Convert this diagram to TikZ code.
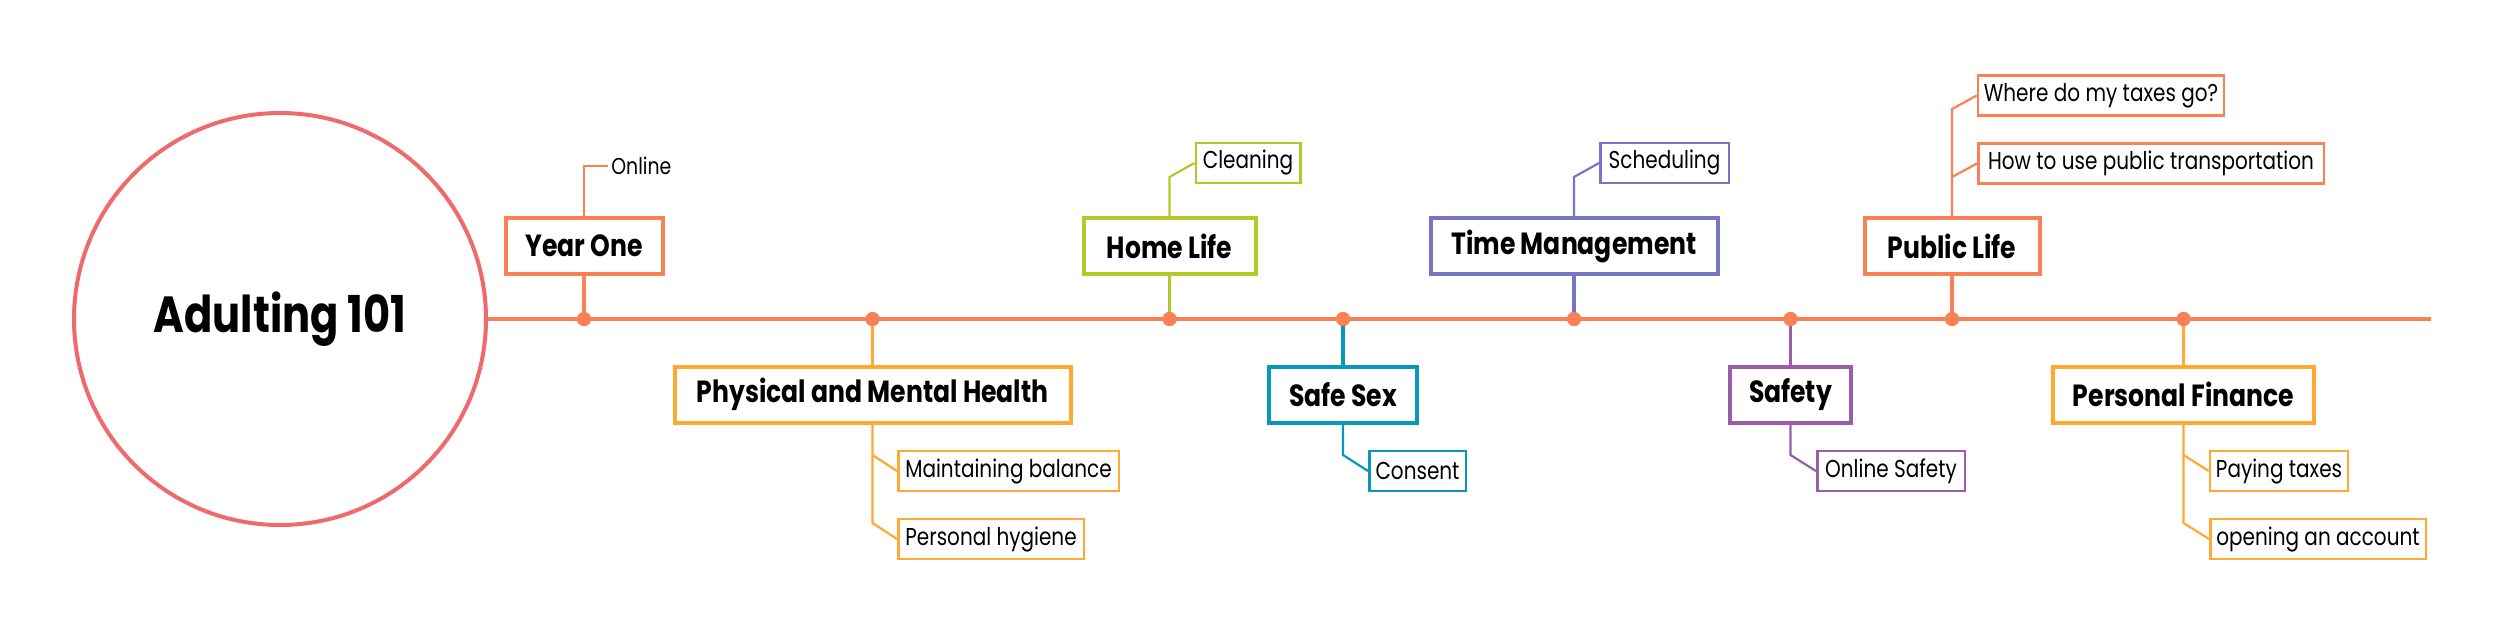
\documentclass[tikz,border=0pt]{standalone}
\usepackage{fontspec}
\setmainfont{Poppins}[FakeStretch=0.82]
\definecolor{tl}{RGB}{250,128,86}
\definecolor{circ}{RGB}{239,106,108}
\definecolor{yel}{RGB}{255,168,50}
\definecolor{lime}{RGB}{181,200,40}
\definecolor{tealc}{RGB}{10,152,186}
\definecolor{slate}{RGB}{118,116,196}
\definecolor{purp}{RGB}{155,92,170}
\begin{document}
\begin{tikzpicture}[x=0.5pt,y=-0.5pt,
  mainbox/.style={draw=#1, line width=2pt, fill=white, minimum height=28pt, inner sep=0pt,
    font=\bfseries\fontsize{15.3}{18}\selectfont},
  subbox/.style={draw=#1, line width=1.25pt, fill=white, minimum height=20pt, inner sep=0pt,
    font=\fontsize{12.2}{14}\selectfont},
  mainconn/.style={draw=#1, line width=1.75pt},
  subconn/.style={draw=#1, line width=1.1pt},
  tick/.style={circle, fill=tl, inner sep=0pt, minimum size=7pt}
]
\useasboundingbox (0,0) rectangle (2500,633);
% central circle
\node[circle, draw=circ, line width=2pt, minimum size=206pt, inner sep=0pt,
  font=\bfseries\fontsize{25.4}{30}\selectfont] (hub) at (280,319) {Adulting 101};
% timeline
\coordinate (tend) at (2431,319);
\draw[tl, line width=2pt] (hub.east) -- (tend);

% main boxes
\node[mainbox=tl, minimum width=78.5pt] (yo) at (584,246) {Year One};
\node[mainbox=yel, minimum width=198pt] (pm) at (872.5,394.5) {Physical and Mental Health};
\node[mainbox=lime, minimum width=86pt] (hl) at (1169.5,246) {Home Life};
\node[mainbox=tealc, minimum width=74pt] (ss) at (1343,394.5) {Safe Sex};
\node[mainbox=slate, minimum width=143.5pt] (tm) at (1574,246) {Time Management};
\node[mainbox=purp, minimum width=60.5pt] (sf) at (1790.5,394.5) {Safety};
\node[mainbox=tl, minimum width=87.5pt] (pl) at (1952,246) {Public Life};
\node[mainbox=yel, minimum width=130.5pt] (pf) at (2183.5,394.5) {Personal Finance};

% dots on timeline
\node[tick] (d1) at (584,319) {};
\node[tick] (d2) at (872.5,319) {};
\node[tick] (d3) at (1169.5,319) {};
\node[tick] (d4) at (1343,319) {};
\node[tick] (d5) at (1574,319) {};
\node[tick] (d6) at (1790.5,319) {};
\node[tick] (d7) at (1952,319) {};
\node[tick] (d8) at (2183.5,319) {};

% main connectors
\draw[mainconn=tl] (yo.south) -- (d1.center);
\draw[mainconn=yel] (d2.center) -- (pm.north);
\draw[mainconn=lime] (hl.south) -- (d3.center);
\draw[mainconn=tealc] (d4.center) -- (ss.north);
\draw[mainconn=slate] (tm.south) -- (d5.center);
\draw[mainconn=purp] (d6.center) -- (sf.north);
\draw[mainconn=tl] (pl.south) -- (d7.center);
\draw[mainconn=yel] (d8.center) -- (pf.north);
\foreach \d in {d1,d2,d3,d4,d5,d6,d7,d8} \node[tick] at (\d) {};

% sub boxes
\node[anchor=west, inner xsep=1.5pt, inner ysep=0pt, font=\fontsize{11.5}{13}\selectfont] (on) at (608,166) {Online};
\node[subbox=lime, minimum width=52.25pt] (cl) at (1248,163) {Cleaning};
\node[subbox=slate, minimum width=64.25pt] (sc) at (1664.5,163) {Scheduling};
\node[subbox=tl, minimum width=123pt] (wt) at (2101,95.5) {Where do my taxes go?};
\node[subbox=tl, minimum width=172.75pt] (ht) at (2151,163.5) {How to use public transportation};
\node[subbox=yel, minimum width=110.25pt] (mb) at (1008.5,471) {Maintaining balance};
\node[subbox=yel, minimum width=92.75pt] (ph) at (991,539) {Personal hygiene};
\node[subbox=tealc, minimum width=48.25pt] (cn) at (1417.5,471) {Consent};
\node[subbox=purp, minimum width=73.75pt] (os) at (1891,471) {Online Safety};
\node[subbox=yel, minimum width=69pt] (pt) at (2279,471) {Paying taxes};
\node[subbox=yel, minimum width=107.75pt] (oa) at (2318,539) {opening an account};

% branch points
\coordinate (yob) at (584,166);
\coordinate (hlb) at (1169.5,177);
\coordinate (tmb) at (1574,177);
\coordinate (plb1) at (1952,109);
\coordinate (plb2) at (1952,177);
\coordinate (pmb1) at (872.5,455);
\coordinate (pmb2) at (872.5,523);
\coordinate (ssb) at (1343,455);
\coordinate (sfb) at (1790.5,455);
\coordinate (pfb1) at (2183.5,455);
\coordinate (pfb2) at (2183.5,523);

% sub connectors
\draw[subconn=tl] (yo.north) -- (yob) -- (on.west);
\draw[subconn=lime] (hl.north) -- (hlb) -- (cl.west);
\draw[subconn=slate] (tm.north) -- (tmb) -- (sc.west);
\draw[subconn=tl] (pl.north) -- (plb1) -- (wt.west);
\draw[subconn=tl] (plb2) -- (ht.west);
\draw[subconn=yel] (pm.south) -- (pmb2) -- (ph.west);
\draw[subconn=yel] (pmb1) -- (mb.west);
\draw[subconn=tealc] (ss.south) -- (ssb) -- (cn.west);
\draw[subconn=purp] (sf.south) -- (sfb) -- (os.west);
\draw[subconn=yel] (pf.south) -- (pfb2) -- (oa.west);
\draw[subconn=yel] (pfb1) -- (pt.west);
\end{tikzpicture}
\end{document}
